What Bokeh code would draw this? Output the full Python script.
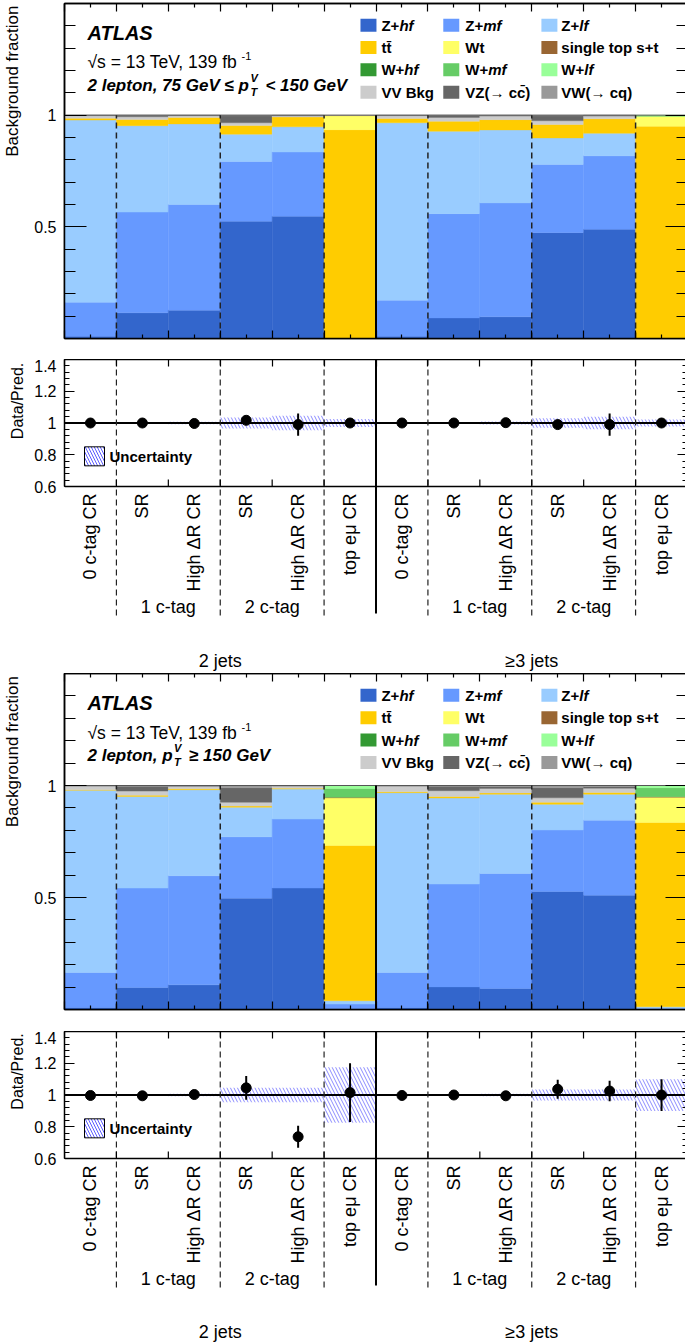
import math
from bokeh.plotting import figure
from bokeh.models import Range1d, FixedTicker, LinearAxis, ColumnDataSource
from bokeh.layouts import column
from bokeh.embed import file_html
from bokeh.resources import INLINE
from bokeh.core.properties import value

FNAME = "Liberation Sans"
FONT = value(FNAME)

# ---------------- data ----------------
region_labels = ["0 c-tag CR", "SR", "High \u0394R CR", "SR", "High \u0394R CR", "top e\u03bc CR",
                 "0 c-tag CR", "SR", "High \u0394R CR", "SR", "High \u0394R CR", "top e\u03bc CR"]
ctag_labels = ["1 c-tag", "2 c-tag", "1 c-tag", "2 c-tag"]
ctag_pos = [2, 4, 8, 10]
jet_labels = ["2 jets", "\u22653 jets"]
jet_pos = [3, 9]
dashed_pos = [1, 3, 5, 7, 9, 11]
solid_pos = [6]

comp_colors = ["#3366cc", "#6699ff", "#99ccff", "#ffcc00", "#ffff66", "#996633",
               "#339933", "#66cc66", "#99ff99", "#cccccc", "#666666", "#999999"]
legend_main = ["Z+", "Z+", "Z+", "tt\u0304", "Wt", "single top s+t",
               "W+", "W+", "W+", "VV Bkg", "VZ(\u2192 cc\u0304)", "VW(\u2192 cq)"]
legend_ital = ["hf", "mf", "lf", "", "", "", "hf", "mf", "lf", "", "", ""]

# panel 1 : 75 GeV <= pTV < 150 GeV  (background fractions per bin)
p1_zhf = [0.010, 0.115, 0.127, 0.525, 0.547, 0.000, 0.010, 0.092, 0.097, 0.474, 0.489, 0.000]
p1_zmf = [0.152, 0.451, 0.473, 0.268, 0.288, 0.000, 0.161, 0.467, 0.510, 0.305, 0.329, 0.000]
p1_zlf = [0.816, 0.387, 0.361, 0.122, 0.113, 0.000, 0.795, 0.369, 0.327, 0.119, 0.101, 0.000]
p1_tt  = [0.008, 0.028, 0.029, 0.039, 0.044, 0.935, 0.019, 0.045, 0.046, 0.060, 0.065, 0.950]
p1_wt  = [0.000, 0.000, 0.000, 0.000, 0.000, 0.063, 0.000, 0.000, 0.000, 0.000, 0.000, 0.045]
p1_stop = [0.000, 0.000, 0.000, 0.000, 0.000, 0.001, 0.000, 0.000, 0.000, 0.000, 0.000, 0.000]
p1_whf = [0.000] * 12
p1_wmf = [0.000, 0.000, 0.000, 0.000, 0.000, 0.000, 0.000, 0.000, 0.000, 0.000, 0.000, 0.002]
p1_wlf = [0.000, 0.000, 0.000, 0.000, 0.000, 0.000, 0.000, 0.000, 0.000, 0.000, 0.000, 0.003]
p1_vv  = [0.012, 0.012, 0.008, 0.012, 0.005, 0.001, 0.013, 0.017, 0.016, 0.017, 0.012, 0.000]
p1_vz  = [0.001, 0.006, 0.001, 0.031, 0.002, 0.000, 0.001, 0.009, 0.003, 0.022, 0.003, 0.000]
p1_vw  = [0.001, 0.001, 0.001, 0.003, 0.001, 0.000, 0.001, 0.001, 0.001, 0.003, 0.001, 0.000]

# panel 2 : pTV >= 150 GeV
p2_zhf = [0.009, 0.098, 0.110, 0.497, 0.542, 0.005, 0.009, 0.101, 0.094, 0.527, 0.510, 0.002]
p2_zmf = [0.156, 0.444, 0.487, 0.274, 0.308, 0.019, 0.156, 0.459, 0.513, 0.274, 0.335, 0.004]
p2_zlf = [0.814, 0.409, 0.384, 0.132, 0.134, 0.015, 0.803, 0.384, 0.354, 0.115, 0.116, 0.006]
p2_tt  = [0.002, 0.006, 0.005, 0.005, 0.004, 0.693, 0.004, 0.007, 0.006, 0.009, 0.008, 0.823]
p2_wt  = [0.000, 0.000, 0.000, 0.000, 0.000, 0.213, 0.000, 0.000, 0.000, 0.000, 0.000, 0.113]
p2_stop = [0.000, 0.000, 0.000, 0.000, 0.000, 0.002, 0.000, 0.000, 0.000, 0.000, 0.000, 0.002]
p2_whf = [0.000] * 12
p2_wmf = [0.000, 0.000, 0.000, 0.000, 0.000, 0.040, 0.000, 0.000, 0.000, 0.000, 0.000, 0.040]
p2_wlf = [0.000, 0.000, 0.000, 0.000, 0.000, 0.013, 0.000, 0.000, 0.000, 0.000, 0.000, 0.010]
p2_vv  = [0.017, 0.018, 0.011, 0.017, 0.010, 0.000, 0.026, 0.026, 0.020, 0.020, 0.019, 0.000]
p2_vz  = [0.001, 0.022, 0.002, 0.065, 0.001, 0.000, 0.001, 0.020, 0.009, 0.045, 0.008, 0.000]
p2_vw  = [0.001, 0.003, 0.001, 0.010, 0.001, 0.000, 0.001, 0.003, 0.004, 0.010, 0.004, 0.000]

# ratio panels
p1_ratio = [1.000, 1.000, 0.997, 1.017, 0.990, 1.000, 1.000, 1.000, 1.002, 0.990, 0.990, 1.000]
p1_err   = [0.005, 0.005, 0.010, 0.015, 0.070, 0.010, 0.004, 0.005, 0.010, 0.015, 0.070, 0.010]
p1_unc   = [0.003, 0.006, 0.008, 0.035, 0.045, 0.025, 0.003, 0.006, 0.010, 0.030, 0.040, 0.022]

p2_ratio = [0.997, 0.995, 1.003, 1.045, 0.737, 1.015, 0.997, 1.000, 0.995, 1.036, 1.025, 1.000]
p2_err   = [0.005, 0.008, 0.010, 0.075, 0.070, 0.185, 0.005, 0.008, 0.010, 0.060, 0.065, 0.100]
p2_unc   = [0.003, 0.006, 0.008, 0.045, 0.045, 0.175, 0.003, 0.006, 0.008, 0.035, 0.035, 0.100]

# ---------------- helpers ----------------
BIN_PX = 623.0 / 12.0
REG = {' ': 278, 's': 500, '=': 584, 'T': 611, 'e': 556, 'V': 667, ',': 278, 'f': 278,
       'b': 556, '\u221a': 549, 'B': 667, 'a': 556, 'c': 500, 'k': 500, 'g': 556, 'r': 333,
       'o': 556, 'u': 556, 'n': 556, 'd': 556, 't': 278, 'i': 222, 'D': 722, '/': 278,
       'P': 667, '.': 278}
BOLD = {' ': 278, 'Z': 611, '+': 584, 'W': 944, 'l': 278, 'e': 556, 'p': 611, 't': 333,
        'o': 611, 'n': 611, ',': 278, 'G': 778, 'V': 667, '\u2264': 549, '\u2265': 549, '<': 584}
NBSP = "\u00a0"


def tw_px(s, px, bold):
    tab = BOLD if bold else REG
    return sum(tab.get(c, 556) for c in s) * px / 1000.0


def tw(s, px, bold):
    return tw_px(s, px, bold) / BIN_PX


def top_aligned(text, px, span):
    # pad at the start so that the centred axis title ends at the top of the frame
    n = int(math.floor((span - tw_px(text, px, False)) / (0.278 * px)))
    return NBSP * max(n, 0) + text


def style_axis(ax, tin, minor_in, show=False, size="16px"):
    ax.major_tick_in = tin
    ax.major_tick_out = 0
    ax.minor_tick_in = minor_in
    ax.minor_tick_out = 0
    ax.major_tick_line_color = "black"
    ax.minor_tick_line_color = "black"
    ax.major_tick_line_width = 1.2
    ax.minor_tick_line_width = 1.2
    ax.axis_line_color = "black"
    ax.axis_line_width = 1.5
    if not show:
        ax.major_label_text_font_size = "0px"
        ax.major_label_standoff = 0
    else:
        ax.major_label_text_font = FNAME
        ax.major_label_text_font_size = size
        ax.major_label_text_color = "black"
        ax.major_label_standoff = 8


def hidden_overrides(ticks):
    return {float(t): "" for t in ticks}


def add_axis_title(ax, text, px, span, standoff):
    ax.axis_label = top_aligned(text, px, span)
    ax.axis_label_text_font = FNAME
    ax.axis_label_text_font_size = f"{px}px"
    ax.axis_label_text_font_style = "normal"
    ax.axis_label_text_color = "black"
    ax.axis_label_standoff = standoff


def main_fig(fracs, fh, bt, bb, header):
    ytop = 1.5
    p = figure(frame_width=623, frame_height=fh, x_range=Range1d(0, 12),
               y_range=Range1d(0, ytop), output_backend="svg", toolbar_location=None,
               min_border_left=60, min_border_right=2, min_border_top=bt, min_border_bottom=bb,
               x_axis_type=None, y_axis_type=None)
    p.outline_line_color = "black"
    p.outline_line_width = 1.5
    p.background_fill_color = "white"
    p.border_fill_color = "white"

    L, R, B, T, C = [], [], [], [], []
    for i in range(12):
        cum = 0.0
        for k, f in enumerate(fracs):
            if f[i] > 0:
                L.append(i); R.append(i + 1); B.append(cum); T.append(cum + f[i]); C.append(comp_colors[k])
            cum += f[i]
    src = ColumnDataSource(dict(left=L, right=R, bottom=B, top=T, color=C))
    p.quad(left="left", right="right", bottom="bottom", top="top", fill_color="color",
           line_color="color", line_width=0.4, source=src)
    p.segment(x0=[0], y0=[1], x1=[12], y1=[1], line_color="#555555", line_width=1)
    p.segment(x0=dashed_pos, y0=[0] * 6, x1=dashed_pos, y1=[1] * 6, line_color="#222222",
              line_width=1.5, line_dash="6 4")
    p.segment(x0=solid_pos, y0=[0], x1=solid_pos, y1=[1], line_color="black", line_width=2)

    xticks = list(range(13))
    yticks = [0, 0.5, 1, 1.5]
    xt = FixedTicker(ticks=xticks, minor_ticks=[i + 0.5 for i in range(12)])
    yt = FixedTicker(ticks=yticks, minor_ticks=[i / 10 for i in range(1, 15)])
    for loc in ("below", "above"):
        ax = LinearAxis(ticker=xt, major_label_overrides=hidden_overrides(xticks))
        style_axis(ax, 8, 4)
        p.add_layout(ax, loc)
    ay = LinearAxis(ticker=yt, major_label_overrides={0.0: "", 0.5: "0.5", 1.0: "1", 1.5: ""})
    style_axis(ay, 22, 11, True, "16px")
    add_axis_title(ay, "Background fraction", 17, fh - 2, 9)
    p.add_layout(ay, "left")
    ay2 = LinearAxis(ticker=yt, major_label_overrides=hidden_overrides(yticks))
    style_axis(ay2, 22, 11)
    p.add_layout(ay2, "right")

    # header text
    x0 = 23.0 / BIN_PX
    p.text(x=[x0], y=[1.368], text=["ATLAS"], text_font=FONT, text_font_size="20px",
           text_font_style="bold italic", text_baseline="middle", text_color="black")
    s1 = "\u221as = 13 TeV, 139 fb"
    p.text(x=[x0], y=[1.236], text=[s1], text_font=FONT, text_font_size="17.5px",
           text_baseline="middle", text_color="black")
    p.text(x=[x0 + tw(s1, 17.5, False) + 1.0 / BIN_PX], y=[1.263], text=["-1"], text_font=FONT,
           text_font_size="11px", text_baseline="middle", text_color="black")
    pre, post = header
    yh = 1.135
    p.text(x=[x0], y=[yh], text=[pre], text_font=FONT, text_font_size="17px",
           text_font_style="bold italic", text_baseline="middle", text_color="black")
    xp = x0 + tw(pre, 17, True)
    p.text(x=[xp], y=[yh], text=["p"], text_font=FONT, text_font_size="17px",
           text_font_style="bold italic", text_baseline="middle", text_color="black")
    xs = xp + tw("p", 17, True) + 1.5 / BIN_PX
    p.text(x=[xs], y=[yh + 0.031], text=["V"], text_font=FONT, text_font_size="11px",
           text_font_style="bold italic", text_baseline="middle", text_color="black")
    p.text(x=[xs], y=[yh - 0.031], text=["T"], text_font=FONT, text_font_size="11px",
           text_font_style="bold italic", text_baseline="middle", text_color="black")
    p.text(x=[xs + 15.0 / BIN_PX], y=[yh], text=[post], text_font=FONT,
           text_font_size="17px", text_font_style="bold italic", text_baseline="middle",
           text_color="black")

    # legend
    sq_x = [5.855, 7.45, 9.34]
    tx_x = [6.105, 7.72, 9.57]
    rows = [1.403, 1.303, 1.203, 1.103]
    rx, ry, rc, lx, ly, lt, ix, iy, it = [], [], [], [], [], [], [], [], []
    for k in range(12):
        r, c = divmod(k, 3)
        rx.append(sq_x[c]); ry.append(rows[r]); rc.append(comp_colors[k])
        lx.append(tx_x[c]); ly.append(rows[r]); lt.append(legend_main[k])
        if legend_ital[k]:
            ix.append(tx_x[c] + tw(legend_main[k], 15, True)); iy.append(rows[r]); it.append(legend_ital[k])
    p.rect(x=rx, y=ry, width=16, height=13, width_units="screen", height_units="screen",
           fill_color=rc, line_color=None)
    p.text(x=lx, y=ly, text=lt, text_font=FONT, text_font_size="15px", text_font_style="bold",
           text_baseline="middle", text_color="black")
    p.text(x=ix, y=iy, text=it, text_font=FONT, text_font_size="15px",
           text_font_style="bold italic", text_baseline="middle", text_color="black")
    return p


def ratio_fig(ratio, err, unc, lab_h, jets_px):
    ppu = 127 / 0.8
    ybot = 0.6 - lab_h / ppu

    def below(px):
        return 0.6 - px / ppu

    fh = 127 + lab_h
    p = figure(frame_width=623, frame_height=fh, x_range=Range1d(0, 12),
               y_range=Range1d(ybot, 1.4), output_backend="svg", toolbar_location=None,
               min_border_left=60, min_border_right=2, min_border_top=0, min_border_bottom=0,
               x_axis_type=None, y_axis_type=None)
    p.outline_line_color = None
    p.background_fill_color = "white"
    p.border_fill_color = "white"
    centers = [i + 0.5 for i in range(12)]

    p.quad(left=list(range(12)), right=list(range(1, 13)), bottom=[1 - u for u in unc],
           top=[1 + u for u in unc], fill_color=None, line_color=None, hatch_pattern="\\",
           hatch_color="#5a5aff", hatch_alpha=0.7, hatch_scale=7, hatch_weight=1)
    p.segment(x0=[0], y0=[1], x1=[12], y1=[1], line_color="black", line_width=2)
    p.segment(x0=dashed_pos, y0=[1.4] * 6, x1=dashed_pos, y1=[below(129)] * 6,
              line_color="#222222", line_width=1.2, line_dash="6 4")
    p.segment(x0=solid_pos, y0=[1.4], x1=solid_pos, y1=[below(127)], line_color="black",
              line_width=2)
    p.segment(x0=centers, y0=[r - e for r, e in zip(ratio, err)], x1=centers,
              y1=[r + e for r, e in zip(ratio, err)], line_color="black", line_width=2)
    p.scatter(x=centers, y=ratio, size=10, fill_color="black", line_color="black")
    # frame bottom edge and its ticks
    p.segment(x0=[0], y0=[0.6], x1=[12], y1=[0.6], line_color="black", line_width=1.5)
    xticks = list(range(13))
    p.segment(x0=xticks, y0=[0.6] * 13, x1=xticks, y1=[0.6 + 7 / ppu] * 13,
              line_color="black", line_width=1.2)
    # legend
    p.rect(x=[0.578], y=[0.79], width=20, height=19, width_units="screen", height_units="screen",
           fill_color=None, line_color="black", line_width=1, hatch_pattern="\\",
           hatch_color="#5a5aff", hatch_scale=6, hatch_weight=1)
    p.text(x=[0.867], y=[0.79], text=["Uncertainty"], text_font=FONT, text_font_size="15px",
           text_font_style="bold", text_baseline="middle", text_color="black")

    # category labels below
    p.text(x=centers, y=[below(7)] * 12, text=region_labels, angle=math.pi / 2,
           text_align="right", text_baseline="middle", text_font=FONT, text_font_size="18px",
           text_color="black")
    p.text(x=ctag_pos, y=[below(120)] * 4, text=ctag_labels, text_align="center",
           text_baseline="middle", text_font=FONT, text_font_size="18px", text_color="black")
    p.text(x=jet_pos, y=[below(jets_px)] * 2, text=jet_labels, text_align="center",
           text_baseline="middle", text_font=FONT, text_font_size="18px", text_color="black")

    yticks = [0.6, 0.8, 1.0, 1.2, 1.4]
    xt = FixedTicker(ticks=xticks, minor_ticks=[])
    yt = FixedTicker(ticks=yticks, minor_ticks=[round(0.6 + 0.04 * i, 2) for i in range(21)])
    ax = LinearAxis(ticker=xt, major_label_overrides=hidden_overrides(xticks))
    style_axis(ax, 7, 0)
    p.add_layout(ax, "above")
    ay = LinearAxis(ticker=yt, bounds=(0.6, 1.4),
                    major_label_overrides={0.6: "0.6", 0.8: "0.8", 1.0: "1", 1.2: "1.2", 1.4: "1.4"})
    style_axis(ay, 10, 5, True, "16px")
    add_axis_title(ay, "Data/Pred.", 16, fh - 2, 5)
    p.add_layout(ay, "left")
    ay2 = LinearAxis(ticker=yt, bounds=(0.6, 1.4), major_label_overrides=hidden_overrides(yticks))
    style_axis(ay2, 10, 5)
    p.add_layout(ay2, "right")
    return p


fr1 = [p1_zhf, p1_zmf, p1_zlf, p1_tt, p1_wt, p1_stop, p1_whf, p1_wmf, p1_wlf, p1_vv, p1_vz, p1_vw]
fr2 = [p2_zhf, p2_zmf, p2_zlf, p2_tt, p2_wt, p2_stop, p2_whf, p2_wmf, p2_wlf, p2_vv, p2_vz, p2_vw]

m1 = main_fig(fr1, 335, 3, 21, ("2 lepton, 75 GeV \u2264 ", "< 150 GeV"))
r1 = ratio_fig(p1_ratio, p1_err, p1_unc, 187, 174)
m2 = main_fig(fr2, 336, 0, 22, ("2 lepton, ", "\u2265 150 GeV"))
r2 = ratio_fig(p2_ratio, p2_err, p2_unc, 184, 173)

page = column(m1, r1, m2, r2, spacing=0)
open("out.html", "w").write(file_html(page, INLINE))
